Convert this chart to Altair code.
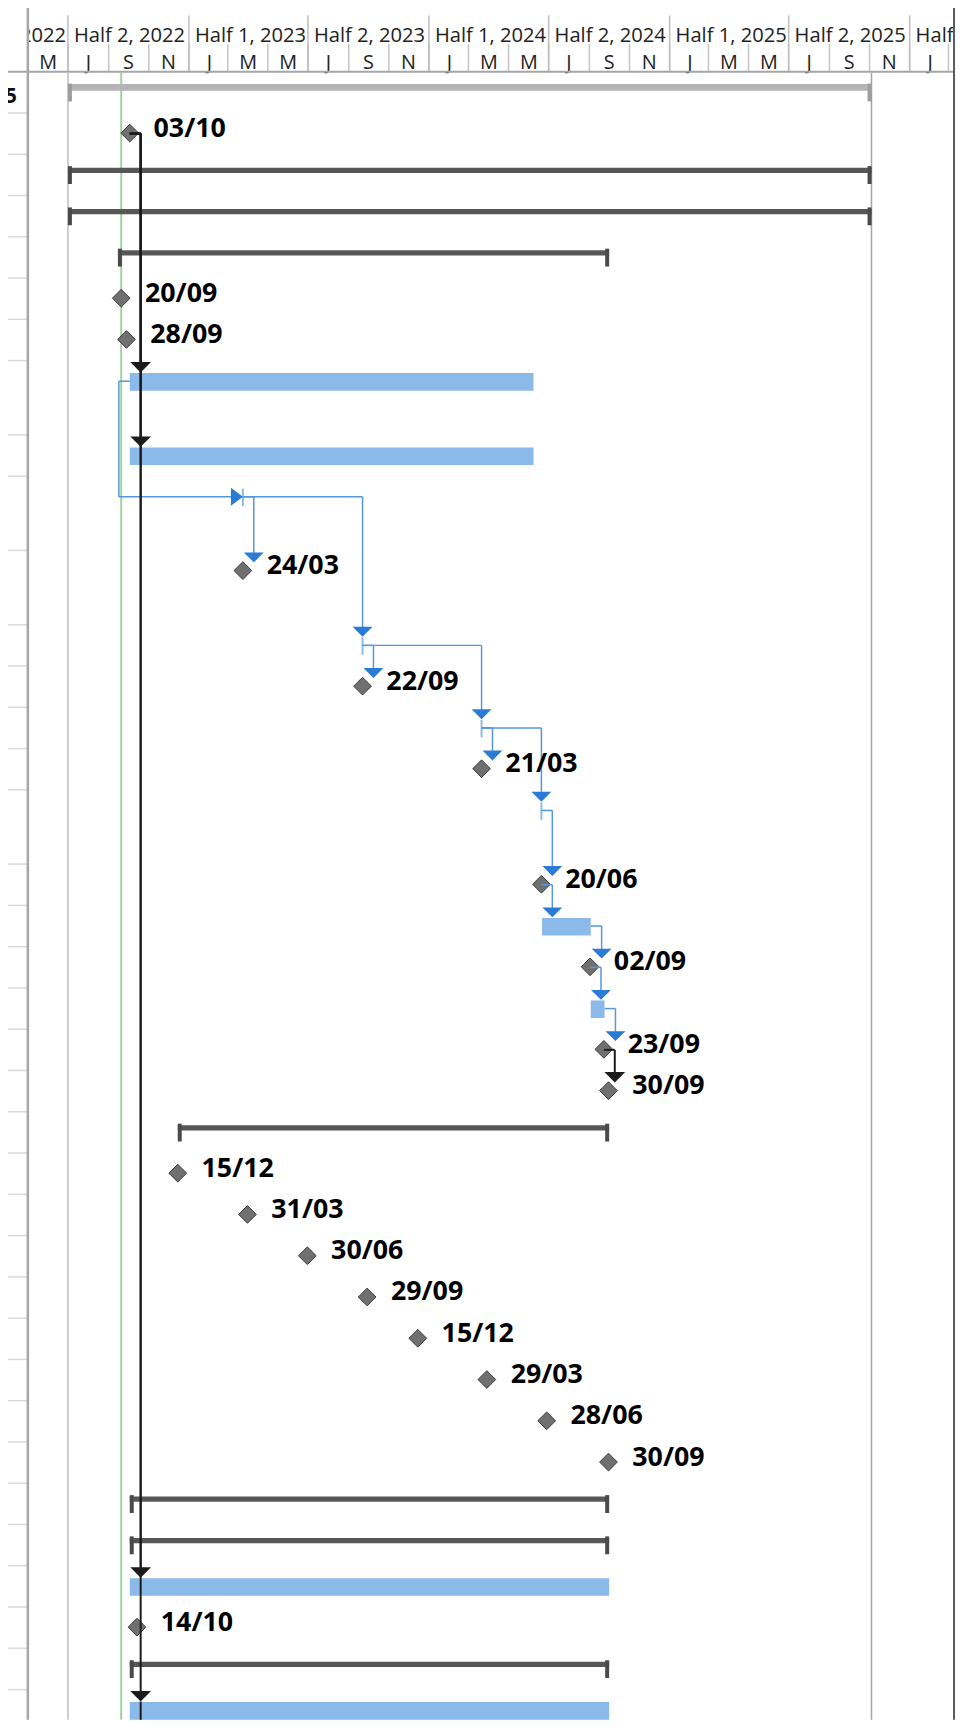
import altair as alt
import numpy as np
import pandas as pd

# ---------------- data ----------------
HALF_STARTS = ["2022-01-01", "2022-07-01", "2023-01-01", "2023-07-01", "2024-01-01",
               "2024-07-01", "2025-01-01", "2025-07-01", "2026-01-01"]
HALF_LABELS = ["Half 1, 2022", "Half 2, 2022", "Half 1, 2023", "Half 2, 2023", "Half 1, 2024",
               "Half 2, 2024", "Half 1, 2025", "Half 2, 2025", "Half 1, 2026"]
MONTH_STARTS = ["2022-03-01", "2022-05-01", "2022-07-01", "2022-09-01", "2022-11-01",
                "2023-01-01", "2023-03-01", "2023-05-01", "2023-07-01", "2023-09-01", "2023-11-01",
                "2024-01-01", "2024-03-01", "2024-05-01", "2024-07-01", "2024-09-01", "2024-11-01",
                "2025-01-01", "2025-03-01", "2025-05-01", "2025-07-01", "2025-09-01", "2025-11-01",
                "2026-01-01", "2026-03-01"]
MONTH_LABELS = ["M", "M", "J", "S", "N",
                "J", "M", "M", "J", "S", "N",
                "J", "M", "M", "J", "S", "N",
                "J", "M", "M", "J", "S", "N",
                "J", "M"]

N_ROWS = 37
TALL_ROWS = [7, 9, 10, 15]
TABLE_TEXT = ["5"]

PROJECT_ROW = 0
PROJECT_START = "2022-07-01"
PROJECT_FINISH = "2025-11-04"
STATUS_DATE = "2022-09-20"

SUMMARY_ROWS = [2, 3, 4, 22, 31, 32, 35]
SUMMARY_STARTS = ["2022-07-01", "2022-07-01", "2022-09-15", "2022-12-15",
                  "2022-10-03", "2022-10-03", "2022-10-03"]
SUMMARY_FINISHES = ["2025-11-04", "2025-11-04", "2024-10-01", "2024-10-01",
                    "2024-10-01", "2024-10-01", "2024-10-01"]

TASK_ROWS = [7, 8, 17, 19, 33, 36]
TASK_STARTS = ["2022-10-03", "2022-10-03", "2024-06-21", "2024-09-03", "2022-10-03", "2022-10-03"]
TASK_FINISHES = ["2024-06-08", "2024-06-08", "2024-09-03", "2024-09-24", "2024-10-01", "2024-10-01"]

ZERO_ROWS = [9, 11, 13, 15]
ZERO_DATES = ["2023-03-24", "2023-09-22", "2024-03-21", "2024-06-20"]

MILESTONE_ROWS = [1, 5, 6, 10, 12, 14, 16, 18, 20, 21, 23, 24, 25, 26, 27, 28, 29, 30, 34]
MILESTONE_DATES = ["2022-10-03", "2022-09-20", "2022-09-28", "2023-03-24", "2023-09-22",
                   "2024-03-21", "2024-06-20", "2024-09-02", "2024-09-23", "2024-09-30",
                   "2022-12-15", "2023-03-31", "2023-06-30", "2023-09-29", "2023-12-15",
                   "2024-03-29", "2024-06-28", "2024-09-30", "2022-10-14"]
MILESTONE_LABELS = ["03/10", "20/09", "28/09", "24/03", "22/09",
                    "21/03", "20/06", "02/09", "23/09", "30/09",
                    "15/12", "31/03", "30/06", "29/09", "15/12",
                    "29/03", "28/06", "30/09", "14/10"]

BLUE_LINK_FROM = [9, 9, 11, 11, 13, 13, 15, 16, 17, 18, 19]
BLUE_LINK_TO = [10, 11, 12, 13, 14, 15, 16, 17, 18, 19, 20]
BLACK_LINK_FROM = [20, 1, 1, 1, 1]
BLACK_LINK_TO = [21, 7, 8, 33, 36]
SS_LINK_FROM = [7]
SS_LINK_TO = [9]
CONTINUING_FROM = 1
CONTINUING_LAST = 36

# ---------------- layout / style ----------------
W, H = 935, 1719
HEADER = 57
U = 41.62  # pixels per table row
X0, X1 = pd.Timestamp("2022-05-01"), pd.Timestamp("2026-03-11")
PX_PER_DAY = W / (X1 - X0).days
GAP = pd.Timedelta(days=11 / PX_PER_DAY)
FONT = "Open Sans"

BLUE_LINE = "#5596e0"
BLUE_ARROW = "#2a7ad6"
BLACK = "#1b1b1b"


def iso(t):
    return pd.Timestamp(t).strftime("%Y-%m-%dT%H:%M:%SZ")


def u(px):
    return px / U


heights = np.where(np.isin(np.arange(N_ROWS), TALL_ROWS), 1.8, 1.0)
tops = np.concatenate([[0.0], np.cumsum(heights)[:-1]])

xs = alt.Scale(type="utc", domain=[alt.DateTime(year=2022, month=5, date=1, utc=True),
                                   alt.DateTime(year=2026, month=3, date=11, utc=True)])
ys = alt.Scale(domain=[-HEADER / U, (H - HEADER) / U], reverse=True, zero=False, nice=False)


def X(f):
    return alt.X(f"{f}:T", scale=xs, axis=None)


def Y(f):
    return alt.Y(f"{f}:Q", scale=ys, axis=None)


one = pd.DataFrame({"k": [0]})
layers = []

# ---- header ----
half_df = pd.DataFrame({"d": [iso(s) for s in HALF_STARTS], "label": HALF_LABELS})
month_df = pd.DataFrame({
    "d": [iso(s) for s in MONTH_STARTS],
    "mid": [iso(pd.Timestamp(s) + pd.DateOffset(months=1)) for s in MONTH_STARTS],
    "label": MONTH_LABELS,
})
layers.append(alt.Chart(month_df).mark_rule(color="#c4c4c4", strokeWidth=1.5, clip=True)
              .encode(x=X("d"), y=alt.value(29), y2=alt.value(HEADER)))
layers.append(alt.Chart(half_df).mark_rule(color="#bdbdbd", strokeWidth=1.5, clip=True)
              .encode(x=X("d"), y=alt.value(0), y2=alt.value(HEADER)))
layers.append(alt.Chart(half_df).mark_text(align="left", baseline="alphabetic", dx=6, font=FONT,
                                           fontSize=20.3, color="#222222", clip=True)
              .encode(x=X("d"), y=alt.value(26.7), text="label:N"))
layers.append(alt.Chart(month_df).mark_text(align="center", baseline="alphabetic", font=FONT,
                                            fontSize=20, color="#222222", clip=True)
              .encode(x=X("mid"), y=alt.value(54.3), text="label:N"))

# ---- frame / table fragment ----
layers.append(alt.Chart(pd.DataFrame({"y": tops[1:]})).mark_rule(color="#dadada", strokeWidth=1.5)
              .encode(x=alt.value(-20), x2=alt.value(-1), y=Y("y")))
layers.append(alt.Chart(one).mark_rule(color="#a6a6a6", strokeWidth=2)
              .encode(x=alt.value(-20), x2=alt.value(W), y=alt.value(HEADER)))
layers.append(alt.Chart(one).mark_rule(color="#a6a6a6", strokeWidth=2.5)
              .encode(x=alt.value(0), y=alt.value(-8), y2=alt.value(H)))
layers.append(alt.Chart(one).mark_rule(color="#5a5a5a", strokeWidth=2)
              .encode(x=alt.value(W - 1), y=alt.value(-8), y2=alt.value(H)))
layers.append(alt.Chart(pd.DataFrame({"t": TABLE_TEXT, "y": [tops[0] + u(31.7)]}))
              .mark_text(align="right", baseline="alphabetic", font=FONT, fontSize=21,
                         fontWeight="bold", color="#111111")
              .encode(x=alt.value(-11), y=Y("y"), text="t:N"))

# ---- vertical guide lines ----
for d, c, w in [(PROJECT_START, "#cccccc", 2), (PROJECT_FINISH, "#a3a3a3", 1.5),
                (STATUS_DATE, "#a0d39a", 2)]:
    layers.append(alt.Chart(pd.DataFrame({"d": [iso(d)]})).mark_rule(color=c, strokeWidth=w)
                  .encode(x=X("d"), y=alt.value(HEADER + 1), y2=alt.value(H)))

# ---- project summary ----
proj_df = pd.DataFrame({"s": [iso(PROJECT_START)], "f": [iso(PROJECT_FINISH)],
                        "y": [tops[PROJECT_ROW] + u(12.3)], "y2": [tops[PROJECT_ROW] + u(19.2)],
                        "cy": [tops[PROJECT_ROW] + u(12)], "cy2": [tops[PROJECT_ROW] + u(30)]})
layers.append(alt.Chart(proj_df).mark_rect(color="#b4b4b4")
              .encode(x=X("s"), x2="f", y=Y("y"), y2="y2"))
layers.append(alt.Chart(proj_df).mark_rule(color="#9d9d9d", strokeWidth=4, xOffset=2)
              .encode(x=X("s"), y=Y("cy"), y2="cy2"))
layers.append(alt.Chart(proj_df).mark_rule(color="#9d9d9d", strokeWidth=4, xOffset=-2)
              .encode(x=X("f"), y=Y("cy"), y2="cy2"))

# ---- summaries ----
st = tops[SUMMARY_ROWS]
sum_df = pd.DataFrame({"s": [iso(s) for s in SUMMARY_STARTS], "f": [iso(f) for f in SUMMARY_FINISHES],
                       "y": st + u(13.5), "y2": st + u(18.8), "cy": st + u(12), "cy2": st + u(30)})
layers.append(alt.Chart(sum_df).mark_rect(color="#575757")
              .encode(x=X("s"), x2="f", y=Y("y"), y2="y2"))
layers.append(alt.Chart(sum_df).mark_rule(color="#4a4a4a", strokeWidth=4, xOffset=2)
              .encode(x=X("s"), y=Y("cy"), y2="cy2"))
layers.append(alt.Chart(sum_df).mark_rule(color="#4a4a4a", strokeWidth=4, xOffset=-2)
              .encode(x=X("f"), y=Y("cy"), y2="cy2"))

# ---- tasks ----
tt = tops[TASK_ROWS]
task_df = pd.DataFrame({"s": [iso(s) for s in TASK_STARTS], "f": [iso(f) for f in TASK_FINISHES],
                        "y": tt + u(12.6), "y2": tt + u(30.3)})
layers.append(alt.Chart(task_df).mark_rect(color="#8bb9ea")
              .encode(x=X("s"), x2="f", y=Y("y"), y2="y2"))

zt = tops[ZERO_ROWS]
zero_df = pd.DataFrame({"d": [iso(d) for d in ZERO_DATES], "y": zt + u(12.6), "y2": zt + u(30.3)})
layers.append(alt.Chart(zero_df).mark_rule(color="#8bb9ea", strokeWidth=2)
              .encode(x=X("d"), y=Y("y"), y2="y2"))

# ---- milestones ----
mt = tops[MILESTONE_ROWS]
ms_df = pd.DataFrame({"d": [iso(d) for d in MILESTONE_DATES], "y": mt + u(20.3),
                      "label": MILESTONE_LABELS})
layers.append(alt.Chart(ms_df).mark_point(shape="diamond", size=320, filled=True, fill="#707070",
                                          stroke="#3c3c3c", strokeWidth=1, opacity=1)
              .encode(x=X("d"), y=Y("y")))

# ---- links ----
starts, finishes = {}, {}
for rows, ss, ff in [(SUMMARY_ROWS, SUMMARY_STARTS, SUMMARY_FINISHES),
                     (TASK_ROWS, TASK_STARTS, TASK_FINISHES),
                     (ZERO_ROWS, ZERO_DATES, ZERO_DATES),
                     (MILESTONE_ROWS, MILESTONE_DATES, MILESTONE_DATES)]:
    for r, s, f in zip(rows, ss, ff):
        starts[r] = pd.Timestamp(s)
        finishes[r] = pd.Timestamp(f)


def fs_links(frm, to):
    segs, arrows = [], []
    for a, b in zip(frm, to):
        pf = finishes[a]
        ax = max(starts[b], pf + GAP)
        yc = tops[a] + u(20.8)
        yt = tops[b] + u(12)
        segs.append(dict(x=iso(pf), x2=iso(ax), y=yc, y2=yc))
        segs.append(dict(x=iso(ax), x2=iso(ax), y=yc, y2=yt - u(5)))
        arrows.append(dict(x=iso(ax), y=yt))
    return pd.DataFrame(segs), pd.DataFrame(arrows)


DOWN = "M-1,-1L1,-1L0,0Z"
RIGHT = "M-1.2,-0.9L0,0L-1.2,0.9Z"

bseg, barr = fs_links(BLUE_LINK_FROM, BLUE_LINK_TO)
kseg, karr = fs_links(BLACK_LINK_FROM, BLACK_LINK_TO)

ss_segs, ss_arr = [], []
for a, b in zip(SS_LINK_FROM, SS_LINK_TO):
    ps = starts[a]
    xl = ps - GAP
    ya = tops[a] + u(20.8)
    yb = tops[b] + u(20.8)
    ss_segs += [dict(x=iso(ps), x2=iso(xl), y=ya, y2=ya),
                dict(x=iso(xl), x2=iso(xl), y=ya, y2=yb),
                dict(x=iso(xl), x2=iso(starts[b] - pd.Timedelta(days=10)), y=yb, y2=yb)]
    ss_arr.append(dict(x=iso(starts[b]), y=yb))
ss_seg_df, ss_arr_df = pd.DataFrame(ss_segs), pd.DataFrame(ss_arr)

cont_x = max(starts[CONTINUING_LAST], finishes[CONTINUING_FROM] + GAP)
cont_df = pd.DataFrame({"x": [iso(cont_x)], "y": [tops[CONTINUING_LAST] + u(12)]})

for seg, col in [(bseg, BLUE_LINE), (ss_seg_df, BLUE_LINE)]:
    layers.append(alt.Chart(seg).mark_rule(color=col, strokeWidth=1.5)
                  .encode(x=X("x"), x2="x2", y=Y("y"), y2="y2"))
layers.append(alt.Chart(barr).mark_point(shape=DOWN, size=400, filled=True, color=BLUE_ARROW, opacity=1)
              .encode(x=X("x"), y=Y("y")))
layers.append(alt.Chart(ss_arr_df).mark_point(shape=RIGHT, size=400, filled=True, color=BLUE_ARROW,
                                              opacity=1)
              .encode(x=X("x"), y=Y("y")))
layers.append(alt.Chart(kseg).mark_rule(color=BLACK, strokeWidth=2)
              .encode(x=X("x"), x2="x2", y=Y("y"), y2="y2"))
layers.append(alt.Chart(cont_df).mark_rule(color=BLACK, strokeWidth=2)
              .encode(x=X("x"), y=Y("y"), y2=alt.value(H)))
layers.append(alt.Chart(karr).mark_point(shape=DOWN, size=440, filled=True, color=BLACK, opacity=1)
              .encode(x=X("x"), y=Y("y")))

# ---- milestone labels ----
layers.append(alt.Chart(ms_df).mark_text(align="left", baseline="alphabetic", dx=24, dy=3.5,
                                         font=FONT, fontSize=27, fontWeight="bold", color="#000000")
              .encode(x=X("d"), y=Y("y"), text="label:N"))

chart = alt.layer(*layers).properties(
    width=W, height=H,
    autosize=alt.AutoSizeParams(type="none"),
    padding={"left": 20, "top": 0, "right": 4, "bottom": 0},
).configure_view(stroke=None)

chart.save("out.html", embed_options={"renderer": "svg", "actions": False})
